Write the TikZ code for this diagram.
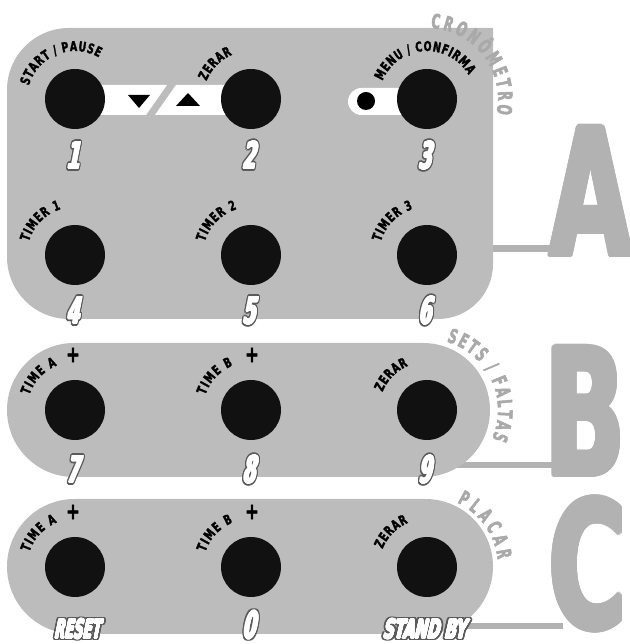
\documentclass[tikz,border=0pt]{standalone}
\usepackage{fontspec}
\usepackage{contour}
\usetikzlibrary{calc,decorations.text}
\newfontfamily\labfam{DejaVu Sans}[FakeStretch=0.7,FakeBold=2]
\newfontfamily\arcfam{DejaVu Sans}[FakeStretch=0.6,FakeBold=2.5]
\newfontfamily\numfam{DejaVu Sans}[FakeStretch=0.5,FakeSlant=0.2]
\newfontfamily\wordfam{DejaVu Sans}[FakeStretch=0.5,FakeSlant=0.2]
\newfontfamily\bigfam{DejaVu Sans}[FakeStretch=0.6]
\definecolor{panelgray}{HTML}{BCBCBC}
\definecolor{letgray}{HTML}{B2B2B2}
\definecolor{arcgray}{HTML}{A9A9A9}
\definecolor{outlgray}{HTML}{5A5A5A}
\definecolor{btnblack}{HTML}{111111}
\newcommand\labfont{\labfam\bfseries\fontsize{13.5}{13.5}\selectfont\color{black}}
\newcommand\arcfont{\arcfam\bfseries\fontsize{20}{20}\selectfont\color{arcgray}}
\newcommand\outl[1]{\makebox[0pt][l]{\color{outlgray}\contourlength{2.4pt}\contour{outlgray}{#1}}%
  {\color{white}\contourlength{0.6pt}\contour{white}{#1}}}
\newcommand\bigout[1]{\contourlength{2.5pt}\contour{letgray}{\textcolor{letgray}{#1}}}
\newcommand\arclab[5]{%
  \path[decorate,decoration={text along path,text align=fit to path,text={#5}}]
    ($(#1)+(#3:#2)$) arc[start angle=#3,end angle=#4,radius=#2];}
\tikzset{
  panel/.style={fill=panelgray},
  btn/.style={circle,fill=btnblack,minimum size=60pt,inner sep=0pt},
  conn/.style={draw=letgray,line width=5.5pt},
  num/.style={anchor=base,inner sep=0pt,font=\numfam\bfseries\fontsize{37}{37}\selectfont},
  word/.style={anchor=base,inner sep=0pt,font=\wordfam\bfseries\fontsize{26}{26}\selectfont},
  big/.style={anchor=base west,inner sep=0pt,text=letgray,font=\bigfam\bfseries\fontsize{176}{176}\selectfont},
  plus/.style={inner sep=0pt,font=\labfam\bfseries\fontsize{23}{23}\selectfont},
  strip/.style={fill=white}
}
\begin{document}
\begin{tikzpicture}[x=1pt,y=1pt]
\useasboundingbox (0,0) rectangle (629,644);
\clip (0,0) rectangle (629,644);
% big letters
\node[big] (LA) at (549.7,388.5) {\bigout{A}};
\node[big] (LB) at (544.9,168.5) {\bigout{B}};
\node[big] (LC) at (548.7,16) {\bigout{C}};
% connectors
\coordinate (ea) at (493,395.5);
\coordinate (eb) at (440,179);
\coordinate (ec) at (440,18);
\draw[conn,line width=6.5pt] (ea) -- ($(ea -| LA.west)+(12,0)$);
\draw[conn] (eb) -- ($(eb -| LB.west)+(14,0)$);
\draw[conn] (ec) -- ($(ec -| LC.west)+(14,0)$);
% panels
\fill[panel] (69,616) -- (493,616) -- (493,380) arc[start angle=0,end angle=-90,radius=55]
  -- (69,325) arc[start angle=270,end angle=180,radius=62] -- (7,554)
  arc[start angle=180,end angle=90,radius=62] -- cycle;
\fill[panel,rounded corners=67pt] (7,167) rectangle (490,301);
\fill[panel,rounded corners=67.5pt] (7,10) rectangle (493,145);
% white strips
\fill[strip] (95,559) -- (167,559) -- (146,529) -- (95,529) -- cycle;
\fill[strip] (176,559) -- (230,559) -- (230,529) -- (155,529) -- cycle;
\fill[black] (128,549) -- (150,549) -- (139,536) -- cycle;
\fill[black] (176,538) -- (200,538) -- (188,551) -- cycle;
\fill[strip,rounded corners=13.5pt] (348,529) rectangle (420,556);
\fill[black] (366,543) circle[radius=9];
% buttons
\node[btn] (k1) at (75,545) {};
\node[btn] (k2) at (251,545) {};
\node[btn] (k3) at (427,545) {};
\node[btn] (k4) at (75,389) {};
\node[btn] (k5) at (251,389) {};
\node[btn] (k6) at (427,389) {};
\node[btn] (k7) at (75,234) {};
\node[btn] (k8) at (251,234) {};
\node[btn] (k9) at (427,234) {};
\node[btn] (k10) at (75,77) {};
\node[btn] (k11) at (251,77) {};
\node[btn] (k12) at (427,77) {};
% curved labels
\arclab{k1}{48}{164}{60}{|\labfont|START / PAUSE}
\arclab{k2}{48}{158}{113}{|\labfont|ZERAR}
\arclab{k3}{48}{158}{30}{|\labfont|MENU / CONFIRMA}
\arclab{k4}{48}{164}{107}{|\labfont|TIMER 1}
\arclab{k5}{48}{164}{107}{|\labfont|TIMER 2}
\arclab{k6}{48}{164}{107}{|\labfont|TIMER 3}
\arclab{k7}{48}{162}{112}{|\labfont|TIME A}
\arclab{k8}{48}{162}{112}{|\labfont|TIME B}
\arclab{k9}{48}{158}{113}{|\labfont|ZERAR}
\arclab{k10}{48}{162}{112}{|\labfont|TIME A}
\arclab{k11}{48}{162}{112}{|\labfont|TIME B}
\arclab{k12}{48}{158}{113}{|\labfont|ZERAR}
\node[plus] (p7) at ($(k7)+(-2,55)$) {+};
\node[plus] (p8) at ($(k8)+(1,55)$) {+};
\node[plus] (p10) at ($(k10)+(-2,55)$) {+};
\node[plus] (p11) at ($(k11)+(1,55)$) {+};
% gray arc titles
\arclab{k3}{71}{87}{-12}{|\arcfont|CRONÔMETRO}
\arclab{k9}{71}{74}{-24}{|\arcfont|SETS / FALTAS}
\arclab{k12}{71}{65}{6}{|\arcfont|PLACAR}
% numbers
\node[num] (n1) at (73,475) {\outl{1}};
\node[num] (n2) at (249,475) {\outl{2}};
\node[num] (n3) at (425,475) {\outl{3}};
\node[num] (n4) at (73,320) {\outl{4}};
\node[num] (n5) at (249,320) {\outl{5}};
\node[num] (n6) at (425,320) {\outl{6}};
\node[num] (n7) at (73,161) {\outl{7}};
\node[num] (n8) at (249,161) {\outl{8}};
\node[num] (n9) at (425,161) {\outl{9}};
\node[word] (w1) at (77,5.5) {\outl{RESET}};
\node[num] (n0) at (249,5.5) {\outl{0}};
\node[word] (w2) at (424,5.5) {\scalebox{1.15}[1]{\outl{STAND BY}}};
\end{tikzpicture}
\end{document}
